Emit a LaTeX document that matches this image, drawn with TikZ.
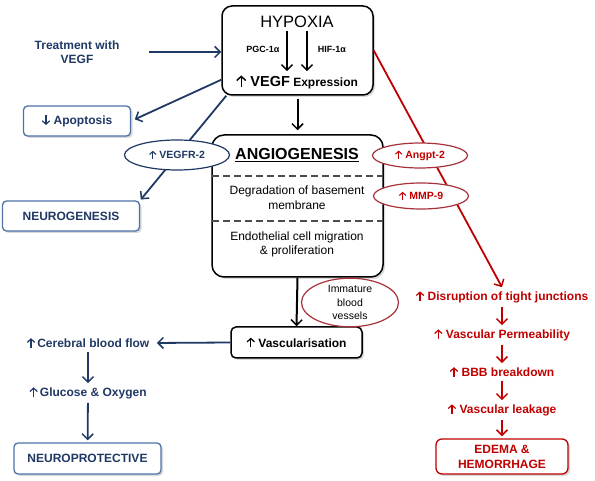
\documentclass[tikz,border=0pt]{standalone}
\usepackage{fontspec}
\setmainfont{Liberation Sans}
\usetikzlibrary{arrows.meta,shapes.geometric,shadows}
\definecolor{navy}{HTML}{1F3864}
\definecolor{steel}{HTML}{4E72A8}
\definecolor{darkred}{HTML}{C00000}
\definecolor{rimred}{HTML}{A8323A}
\newcommand{\fsz}[2]{\fontsize{#1}{#2}\selectfont}
\newcommand{\up}{\tikz[baseline=0pt]\draw[line width=.1em,-{Straight Barb[length=.28em,width=.62em,line width=.1em]}] (0,-.02em) -- (0,.78em);}
\newcommand{\down}{\tikz[baseline=0pt]\draw[line width=.1em,-{Straight Barb[length=.28em,width=.62em,line width=.1em]}] (0,.78em) -- (0,-.02em);}

\begin{document}
\begin{tikzpicture}[x=1pt,y=-1pt,
    shade/.style={drop shadow={shadow xshift=2pt,shadow yshift=-2pt,opacity=.3}},
    blk/.style={draw,fill=white,line width=1.5pt,rounded corners=10pt,shade},
    bluebox/.style={draw=steel,fill=white,line width=1.3pt,rounded corners=4pt,text=navy,font=\bfseries\fsz{12}{14},shade},
    redbox/.style={draw=darkred,fill=white,line width=1.3pt,rounded corners=6pt,text=darkred,font=\bfseries\fsz{12}{15},align=center,shade},
    oval/.style={ellipse,draw,fill=white,line width=1.2pt,inner sep=0pt},
    bluetxt/.style={text=navy,font=\bfseries\fsz{12}{14}},
    redtxt/.style={text=darkred,font=\bfseries\fsz{12}{14}},
    tip/.style={-{Straight Barb[length=5.5pt,width=11pt,line width=1.5pt]}},
  ]
  \useasboundingbox (0,0) rectangle (595,481);

  % hypoxia
  \node[blk,minimum width=151pt,minimum height=89pt] (hyp) at (297.5,50.5) {};
  \node[font=\fsz{16.5}{18}] (hyptitle) at (297,22) {HYPOXIA};
  \node[font=\bfseries\fsz{9}{10}] (pgc) at (263,49) {PGC-1α};
  \node[font=\bfseries\fsz{9}{10}] (hif) at (332,49) {HIF-1α};
  \node[font=\bfseries\fsz{12}{14}] (vegfexp) at (297,82) {{\fsz{14.5}{16}\up\ VEGF} Expression};
  \draw[tip,line width=2pt] ([xshift=-10pt]hyptitle.south) -- ([xshift=-10pt]vegfexp.north);
  \draw[tip,line width=2pt] ([xshift=10pt]hyptitle.south) -- ([xshift=10pt]vegfexp.north);

  % angiogenesis
  \node[blk,rounded corners=12pt,minimum width=171pt,minimum height=142pt] (angio) at (297.5,206) {};
  \node[font=\bfseries\fsz{16}{18}] (angiotitle) at (297,155) {\underline{ANGIOGENESIS}};
  \draw[dashed,dash pattern=on 7pt off 4pt,line width=1.3pt,black!70] (212,176) -- (383,176);
  \draw[dashed,dash pattern=on 7pt off 4pt,line width=1.3pt,black!70] (212,221) -- (383,221);
  \node[align=center,font=\fsz{12}{14.5}] (degr) at (297,197.5) {Degradation of basement\\membrane};
  \node[align=center,font=\fsz{12}{14.5}] (endo) at (297,244.5) {Endothelial cell migration\\\& proliferation};

  \node[blk,rounded corners=5pt,minimum width=131pt,minimum height=31pt,font=\bfseries\fsz{12}{14}] (vasc) at (296.5,342.5) {\up\ Vascularisation};

  % left side
  \node[bluetxt,align=center] (treat) at (77,52) {Treatment with\\VEGF};
  \node[bluebox,minimum width=107pt,minimum height=30pt] (apop) at (77,121) {\down\ Apoptosis};
  \node[bluebox,minimum width=137pt,minimum height=30pt] (neurog) at (71,216) {NEUROGENESIS};
  \node[bluetxt] (cbf) at (88,343) {\up\,Cerebral blood flow};
  \node[bluetxt] (gluc) at (88,393) {\up\,Glucose \& Oxygen};
  \node[bluebox,minimum width=147pt,minimum height=31pt] (neurop) at (87.5,458.5) {NEUROPROTECTIVE};

  % right side
  \node[redtxt] (disr) at (502,297) {\up\ Disruption of tight junctions};
  \node[redtxt] (perm) at (502,335) {\up\ Vascular Permeability};
  \node[redtxt] (bbb) at (502,372) {\up\ BBB breakdown};
  \node[redtxt] (leak) at (502,410) {\up\ Vascular leakage};
  \node[redbox,minimum width=132pt,minimum height=35pt] (edema) at (502,456.5) {EDEMA \&\\HEMORRHAGE};

  % connectors
  \draw[tip,navy,line width=1.8pt,shorten <=26pt] (treat.east) -- (hyp.west |- treat.east);
  \draw[tip,navy,line width=1.8pt,shorten >=4pt] (hyp.201) -- (apop.east);
  \draw[tip,navy,line width=1.8pt,shorten >=1pt] ([xshift=5pt]hyp.south west) -- (neurog.north east);
  \draw[tip,line width=2pt,shorten <=3pt,shorten >=4pt] (hyp.south) -- (angio.north);
  \draw[tip,line width=2pt] (angio.south) -- (vasc.north);
  \draw[tip,navy,line width=1.8pt,shorten >=4pt] (vasc.west) -- (cbf.east);
  \draw[tip,navy,line width=1.8pt] (cbf) -- (gluc);
  \draw[tip,navy,line width=1.8pt,shorten >=2pt] (gluc) -- (neurop);
  \draw[tip,darkred,line width=1.8pt] (hyp.east) -- (disr.north);
  \draw[tip,darkred,line width=1.8pt] (disr) -- (perm);
  \draw[tip,darkred,line width=1.8pt] (perm) -- (bbb);
  \draw[tip,darkred,line width=1.8pt] (bbb) -- (leak);
  \draw[tip,darkred,line width=1.8pt,shorten >=2pt] (leak) -- (edema);

  % ovals
  \node[oval,draw=navy,text=navy,minimum width=105pt,minimum height=30pt,font=\bfseries\fsz{10.5}{12}] (vegfr) at (177,155) {\up\ VEGFR-2};
  \node[oval,draw=rimred,text=darkred,minimum width=95pt,minimum height=25pt,font=\bfseries\fsz{10.5}{12}] (angpt) at (420,155.5) {\up\ Angpt-2};
  \node[oval,draw=rimred,text=darkred,minimum width=95pt,minimum height=26pt,font=\bfseries\fsz{10.5}{12}] (mmp) at (421,196) {\up\ MMP-9};
  \node[oval,draw=rimred,align=center,minimum width=97pt,minimum height=45pt,font=\fsz{10.5}{13.5}] (imm) at (350,302.5) {Immature\\blood\\vessels};
\end{tikzpicture}
\end{document}
